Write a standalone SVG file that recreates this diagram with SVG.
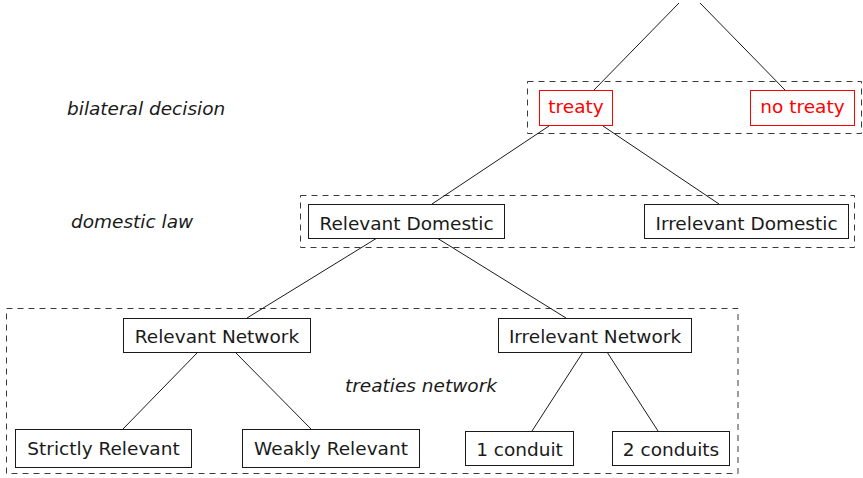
<svg xmlns="http://www.w3.org/2000/svg" width="863" height="478" viewBox="0 0 863 478">
  <style>
    .node rect { fill: #ffffff; stroke: #1a1a1a; stroke-width: 1; }
    .node text { font-family: "DejaVu Sans", "Liberation Sans", sans-serif; font-size: 18.5px; fill: #1a1a1a; text-anchor: middle; }
    .red rect { stroke: #ff0000; }
    .red text { fill: #ff0000; }
    .group { fill: none; stroke: #3a3a3a; stroke-width: 1; stroke-dasharray: 6 5; }
    .label { font-family: "DejaVu Sans", "Liberation Sans", sans-serif; font-size: 18.5px; font-style: italic; fill: #1a1a1a; }
    #edges line { stroke: #1a1a1a; stroke-width: 1; }
  </style>
  <rect width="863" height="478" fill="#ffffff"/>

  <!-- level frames -->
  <g id="frames">
    <rect class="group" x="527.5" y="81.5" width="334" height="52"/>
    <rect class="group" x="300.5" y="195.5" width="554" height="52"/>
    <rect class="group" x="6.5" y="308.5" width="731.5" height="165"/>
  </g>

  <!-- level labels -->
  <g id="labels">
    <text class="label" x="67" y="114.5">bilateral decision</text>
    <text class="label" x="71" y="228">domestic law</text>
    <text class="label" x="345" y="391.5">treaties network</text>
  </g>

  <!-- tree edges -->
  <g id="edges">
    <line x1="679" y1="3" x2="594" y2="90"/>
    <line x1="700" y1="3" x2="785" y2="90"/>
    <line x1="549" y1="126" x2="432" y2="204"/>
    <line x1="603" y1="126" x2="719" y2="204"/>
    <line x1="377" y1="238" x2="247" y2="318"/>
    <line x1="437" y1="238" x2="566" y2="318"/>
    <line x1="198" y1="352" x2="123" y2="429"/>
    <line x1="235" y1="352" x2="311" y2="429"/>
    <line x1="583" y1="352" x2="532" y2="431"/>
    <line x1="607" y1="352" x2="658" y2="431"/>
  </g>

  <!-- bilateral decision -->
  <g id="treaty" class="node red">
    <rect x="539.5" y="90.5" width="73" height="35"/>
    <text x="576" y="112.5">treaty</text>
  </g>
  <g id="no-treaty" class="node red">
    <rect x="750.5" y="90.5" width="104" height="35"/>
    <text x="802.5" y="112.5">no treaty</text>
  </g>

  <!-- domestic law -->
  <g id="relevant-domestic" class="node">
    <rect x="308.5" y="204.5" width="196" height="34"/>
    <text x="406.5" y="229.5">Relevant Domestic</text>
  </g>
  <g id="irrelevant-domestic" class="node">
    <rect x="644.5" y="204.5" width="204" height="34"/>
    <text x="746.5" y="229.5">Irrelevant Domestic</text>
  </g>

  <!-- treaties network -->
  <g id="relevant-network" class="node">
    <rect x="123.5" y="318.5" width="187" height="34"/>
    <text x="217" y="342.5">Relevant Network</text>
  </g>
  <g id="irrelevant-network" class="node">
    <rect x="498.5" y="318.5" width="193" height="34"/>
    <text x="595" y="342.5">Irrelevant Network</text>
  </g>
  <g id="strictly-relevant" class="node">
    <rect x="15.5" y="429.5" width="176" height="38"/>
    <text x="103.5" y="454.5">Strictly Relevant</text>
  </g>
  <g id="weakly-relevant" class="node">
    <rect x="242.5" y="429.5" width="177" height="38"/>
    <text x="331" y="454.5">Weakly Relevant</text>
  </g>
  <g id="one-conduit" class="node">
    <rect x="465.5" y="431.5" width="108" height="34"/>
    <text x="519.5" y="455.5">1 conduit</text>
  </g>
  <g id="two-conduits" class="node">
    <rect x="612.5" y="431.5" width="117" height="34"/>
    <text x="671" y="455.5">2 conduits</text>
  </g>
</svg>
